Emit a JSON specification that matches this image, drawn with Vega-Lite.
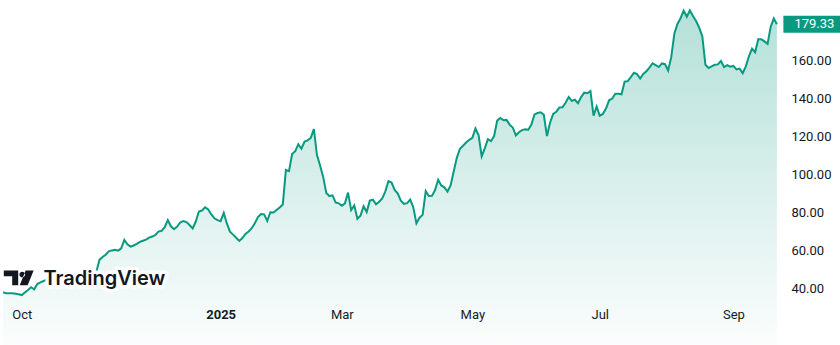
{
  "$schema": "https://vega.github.io/schema/vega-lite/v6.json",
  "width": 780,
  "height": 300,
  "autosize": {"type": "none"},
  "padding": {"left": 0, "top": 0, "right": 60, "bottom": 45},
  "background": "#ffffff",
  "config": {"view": {"stroke": null}, "font": "Roboto"},
  "datasets": {
    "price": [
      {"date":"2024-09-23","close":38.3},{"date":"2024-09-24","close":37.7},{"date":"2024-09-25","close":37.7},{"date":"2024-09-26","close":37.8},{"date":"2024-09-27","close":37.5},{"date":"2024-09-30","close":37.2},
      {"date":"2024-10-01","close":36.8},{"date":"2024-10-02","close":38.2},{"date":"2024-10-03","close":39.5},{"date":"2024-10-04","close":40.9},{"date":"2024-10-07","close":39.8},{"date":"2024-10-08","close":42.6},{"date":"2024-10-09","close":43.5},{"date":"2024-10-10","close":44.2},{"date":"2024-10-11","close":44.8},{"date":"2024-10-14","close":44.0},{"date":"2024-10-15","close":43.2},{"date":"2024-10-16","close":42.5},{"date":"2024-10-17","close":42.2},{"date":"2024-10-18","close":43.0},{"date":"2024-10-21","close":43.8},{"date":"2024-10-22","close":44.5},{"date":"2024-10-23","close":44.0},{"date":"2024-10-24","close":44.6},{"date":"2024-10-25","close":44.8},{"date":"2024-10-28","close":45.5},{"date":"2024-10-29","close":46.3},{"date":"2024-10-30","close":46.0},{"date":"2024-10-31","close":47.2},
      {"date":"2024-11-01","close":48.0},{"date":"2024-11-04","close":49.0},{"date":"2024-11-05","close":55.3},{"date":"2024-11-06","close":56.8},{"date":"2024-11-07","close":58.0},{"date":"2024-11-08","close":59.8},{"date":"2024-11-11","close":60.3},{"date":"2024-11-12","close":60.6},{"date":"2024-11-13","close":60.2},{"date":"2024-11-14","close":61.4},{"date":"2024-11-15","close":65.8},{"date":"2024-11-18","close":63.5},{"date":"2024-11-19","close":62.3},{"date":"2024-11-20","close":62.9},{"date":"2024-11-21","close":63.8},{"date":"2024-11-22","close":64.8},{"date":"2024-11-25","close":65.4},{"date":"2024-11-26","close":66.0},{"date":"2024-11-27","close":67.0},{"date":"2024-11-29","close":67.6},
      {"date":"2024-12-02","close":68.5},{"date":"2024-12-03","close":70.2},{"date":"2024-12-04","close":70.6},{"date":"2024-12-05","close":72.5},{"date":"2024-12-06","close":76.3},{"date":"2024-12-09","close":73.0},{"date":"2024-12-10","close":71.5},{"date":"2024-12-11","close":72.8},{"date":"2024-12-12","close":75.0},{"date":"2024-12-13","close":75.8},{"date":"2024-12-16","close":75.2},{"date":"2024-12-17","close":73.7},{"date":"2024-12-18","close":71.9},{"date":"2024-12-19","close":75.5},{"date":"2024-12-20","close":80.8},{"date":"2024-12-23","close":81.3},{"date":"2024-12-24","close":83.0},{"date":"2024-12-26","close":81.8},{"date":"2024-12-27","close":79.2},{"date":"2024-12-30","close":77.2},{"date":"2024-12-31","close":76.2},
      {"date":"2025-01-02","close":75.7},{"date":"2025-01-03","close":80.0},{"date":"2025-01-06","close":74.5},{"date":"2025-01-07","close":70.2},{"date":"2025-01-08","close":68.6},{"date":"2025-01-10","close":67.0},{"date":"2025-01-13","close":65.3},{"date":"2025-01-14","close":66.8},{"date":"2025-01-15","close":69.0},{"date":"2025-01-16","close":70.3},{"date":"2025-01-17","close":72.0},{"date":"2025-01-21","close":74.6},{"date":"2025-01-22","close":77.8},{"date":"2025-01-23","close":79.5},{"date":"2025-01-24","close":79.3},{"date":"2025-01-27","close":75.8},{"date":"2025-01-28","close":80.4},{"date":"2025-01-29","close":80.3},{"date":"2025-01-30","close":81.6},{"date":"2025-01-31","close":82.9},
      {"date":"2025-02-03","close":84.5},{"date":"2025-02-04","close":102.7},{"date":"2025-02-05","close":102.0},{"date":"2025-02-06","close":111.0},{"date":"2025-02-07","close":112.5},{"date":"2025-02-10","close":116.2},{"date":"2025-02-11","close":113.8},{"date":"2025-02-12","close":117.6},{"date":"2025-02-13","close":118.2},{"date":"2025-02-14","close":119.5},{"date":"2025-02-18","close":124.2},{"date":"2025-02-19","close":110.5},{"date":"2025-02-20","close":105.0},{"date":"2025-02-21","close":99.0},{"date":"2025-02-24","close":90.5},{"date":"2025-02-25","close":88.9},{"date":"2025-02-26","close":89.3},{"date":"2025-02-27","close":85.6},{"date":"2025-02-28","close":85.1},
      {"date":"2025-03-03","close":83.8},{"date":"2025-03-04","close":85.1},{"date":"2025-03-05","close":90.7},{"date":"2025-03-06","close":81.5},{"date":"2025-03-07","close":84.0},{"date":"2025-03-10","close":77.0},{"date":"2025-03-11","close":78.6},{"date":"2025-03-12","close":83.5},{"date":"2025-03-13","close":80.5},{"date":"2025-03-14","close":86.5},{"date":"2025-03-17","close":87.0},{"date":"2025-03-18","close":84.6},{"date":"2025-03-19","close":85.9},{"date":"2025-03-20","close":87.6},{"date":"2025-03-21","close":91.4},{"date":"2025-03-24","close":96.8},{"date":"2025-03-25","close":96.0},{"date":"2025-03-26","close":92.1},{"date":"2025-03-27","close":90.2},{"date":"2025-03-28","close":86.5},{"date":"2025-03-31","close":84.8},
      {"date":"2025-04-01","close":85.2},{"date":"2025-04-02","close":87.0},{"date":"2025-04-03","close":83.0},{"date":"2025-04-04","close":74.5},{"date":"2025-04-07","close":77.5},{"date":"2025-04-08","close":79.0},{"date":"2025-04-09","close":91.5},{"date":"2025-04-10","close":88.9},{"date":"2025-04-11","close":89.0},{"date":"2025-04-14","close":92.1},{"date":"2025-04-15","close":97.5},{"date":"2025-04-16","close":94.5},{"date":"2025-04-17","close":93.5},{"date":"2025-04-21","close":91.3},{"date":"2025-04-22","close":94.5},{"date":"2025-04-23","close":101.8},{"date":"2025-04-24","close":109.0},{"date":"2025-04-25","close":113.8},{"date":"2025-04-28","close":115.4},{"date":"2025-04-29","close":117.1},{"date":"2025-04-30","close":118.5},
      {"date":"2025-05-01","close":119.5},{"date":"2025-05-02","close":124.5},{"date":"2025-05-05","close":121.0},{"date":"2025-05-06","close":109.8},{"date":"2025-05-07","close":114.0},{"date":"2025-05-08","close":118.8},{"date":"2025-05-09","close":117.8},{"date":"2025-05-12","close":120.5},{"date":"2025-05-13","close":128.6},{"date":"2025-05-14","close":130.0},{"date":"2025-05-15","close":128.8},{"date":"2025-05-16","close":129.0},{"date":"2025-05-19","close":126.5},{"date":"2025-05-20","close":125.0},{"date":"2025-05-21","close":120.8},{"date":"2025-05-22","close":122.5},{"date":"2025-05-23","close":123.6},{"date":"2025-05-27","close":124.0},{"date":"2025-05-28","close":123.8},{"date":"2025-05-29","close":126.5},{"date":"2025-05-30","close":131.9},
      {"date":"2025-06-02","close":132.6},{"date":"2025-06-03","close":133.0},{"date":"2025-06-04","close":131.7},{"date":"2025-06-05","close":120.5},{"date":"2025-06-06","close":127.5},{"date":"2025-06-09","close":132.2},{"date":"2025-06-10","close":133.3},{"date":"2025-06-11","close":135.5},{"date":"2025-06-12","close":135.6},{"date":"2025-06-13","close":138.0},{"date":"2025-06-16","close":141.0},{"date":"2025-06-17","close":139.0},{"date":"2025-06-18","close":139.6},{"date":"2025-06-20","close":137.8},{"date":"2025-06-23","close":141.0},{"date":"2025-06-24","close":143.3},{"date":"2025-06-25","close":143.0},{"date":"2025-06-26","close":144.2},{"date":"2025-06-27","close":131.2},{"date":"2025-06-30","close":136.0},
      {"date":"2025-07-01","close":131.2},{"date":"2025-07-02","close":132.1},{"date":"2025-07-03","close":135.0},{"date":"2025-07-07","close":139.3},{"date":"2025-07-08","close":140.2},{"date":"2025-07-09","close":142.8},{"date":"2025-07-10","close":142.8},{"date":"2025-07-11","close":142.5},{"date":"2025-07-14","close":149.1},{"date":"2025-07-15","close":149.4},{"date":"2025-07-16","close":151.5},{"date":"2025-07-17","close":153.8},{"date":"2025-07-18","close":153.1},{"date":"2025-07-21","close":150.8},{"date":"2025-07-22","close":153.2},{"date":"2025-07-23","close":154.6},{"date":"2025-07-24","close":156.5},{"date":"2025-07-25","close":158.8},{"date":"2025-07-28","close":157.8},{"date":"2025-07-29","close":156.8},{"date":"2025-07-30","close":158.7},{"date":"2025-07-31","close":158.3},
      {"date":"2025-08-01","close":155.0},{"date":"2025-08-04","close":162.0},{"date":"2025-08-05","close":174.3},{"date":"2025-08-06","close":179.5},{"date":"2025-08-07","close":182.5},{"date":"2025-08-08","close":186.5},{"date":"2025-08-11","close":183.3},{"date":"2025-08-12","close":186.6},{"date":"2025-08-13","close":183.7},{"date":"2025-08-14","close":181.0},{"date":"2025-08-15","close":177.5},{"date":"2025-08-18","close":173.0},{"date":"2025-08-19","close":158.0},{"date":"2025-08-20","close":156.3},{"date":"2025-08-21","close":157.2},{"date":"2025-08-22","close":158.0},{"date":"2025-08-25","close":158.2},{"date":"2025-08-26","close":160.0},{"date":"2025-08-27","close":156.8},{"date":"2025-08-28","close":157.8},{"date":"2025-08-29","close":157.0},
      {"date":"2025-09-02","close":157.4},{"date":"2025-09-03","close":155.6},{"date":"2025-09-04","close":156.0},{"date":"2025-09-05","close":153.6},{"date":"2025-09-08","close":157.2},{"date":"2025-09-09","close":162.5},{"date":"2025-09-10","close":166.5},{"date":"2025-09-11","close":164.6},{"date":"2025-09-12","close":171.4},{"date":"2025-09-15","close":171.4},{"date":"2025-09-16","close":170.3},{"date":"2025-09-17","close":169.0},{"date":"2025-09-18","close":178.0},{"date":"2025-09-19","close":182.4},{"date":"2025-09-22","close":179.33}
    ],
    "logo": [{"date": "2024-09-30", "close": 45.8}],
    "wordmark": [{"date": "2024-10-10", "close": 41.95, "label": "TradingView"}]
  },
  "encoding": {
    "x": {
      "field": "date",
      "type": "ordinal",
      "scale": {"type": "point", "padding": 1.836},
      "axis": {
        "title": null,
        "values": ["2024-10-01", "2025-01-02", "2025-03-03", "2025-05-01", "2025-07-01", "2025-09-02"],
        "labelExpr": "datum.value == '2024-10-01' ? 'Oct' : datum.value == '2025-01-02' ? '2025' : datum.value == '2025-03-03' ? 'Mar' : datum.value == '2025-05-01' ? 'May' : datum.value == '2025-07-01' ? 'Jul' : 'Sep'",
        "labelFontWeight": {"condition": {"test": "datum.value == '2025-01-02'", "value": "bold"}, "value": "normal"},
        "labelAngle": 0,
        "labelFont": "Roboto",
        "labelFontSize": 13,
        "labelColor": "#131722",
        "labelPadding": 8,
        "ticks": false,
        "domain": false,
        "grid": false
      }
    },
    "y": {
      "field": "close",
      "type": "quantitative",
      "scale": {"domain": [34.2, 192.1], "zero": false, "nice": false},
      "axis": {
        "orient": "right",
        "title": null,
        "values": [40, 60, 80, 100, 120, 140, 160],
        "format": ".2f",
        "labelFont": "Roboto",
        "labelFontSize": 13,
        "labelColor": "#131722",
        "labelPadding": 11,
        "ticks": false,
        "domain": false,
        "grid": false
      }
    }
  },
  "layer": [
    {
      "data": {"name": "price"},
      "mark": {
        "type": "area",
        "interpolate": "linear",
        "color": {
          "gradient": "linear",
          "x1": 0, "y1": 0, "x2": 0, "y2": 1,
          "stops": [
            {"offset": 0, "color": "rgba(8,153,129,0.30)"},
            {"offset": 1, "color": "rgba(8,153,129,0.0)"}
          ]
        }
      }
    },
    {
      "data": {"name": "price"},
      "mark": {"type": "line", "color": "#089981", "strokeWidth": 2, "interpolate": "linear"}
    },
    {
      "data": {"name": "price"},
      "transform": [{"filter": "datum.date == '2025-09-22'"}],
      "mark": {"type": "point", "shape": "M-1,-0.29H1V0.29H-1Z", "size": 3364, "filled": true, "color": "#089981", "opacity": 1, "strokeWidth": 0, "xOffset": 35.5}
    },
    {
      "data": {"name": "price"},
      "transform": [{"filter": "datum.date == '2025-09-22'"}],
      "mark": {"type": "text", "color": "#ffffff", "font": "Roboto", "fontSize": 13, "align": "center", "baseline": "middle", "xOffset": 37.5},
      "encoding": {"text": {"field": "close", "type": "quantitative", "format": ".2f"}}
    },
    {
      "data": {"name": "wordmark"},
      "mark": {"type": "text", "color": "#ffffff", "stroke": "#ffffff", "strokeWidth": 7, "strokeJoin": "round", "font": "Inter", "fontWeight": 600, "fontSize": 20, "align": "left", "baseline": "alphabetic"},
      "encoding": {"text": {"field": "label"}}
    },
    {
      "data": {"name": "wordmark"},
      "mark": {"type": "text", "color": "#131722", "font": "Inter", "fontWeight": 600, "fontSize": 20, "align": "left", "baseline": "alphabetic"},
      "encoding": {"text": {"field": "label"}}
    },
    {
      "data": {"name": "logo"},
      "mark": {"type": "point", "shape": "M-0.99,-0.49H-0.03V0.49H-0.43V-0.11H-0.99Z M0.05,-0.23A0.19,0.19 0 1,0 0.43,-0.23A0.19,0.19 0 1,0 0.05,-0.23Z M0.47,-0.49H1L0.6,0.49H0.07Z", "size": 900, "filled": true, "color": "#131722", "opacity": 1, "strokeWidth": 0}
    }
  ]
}
